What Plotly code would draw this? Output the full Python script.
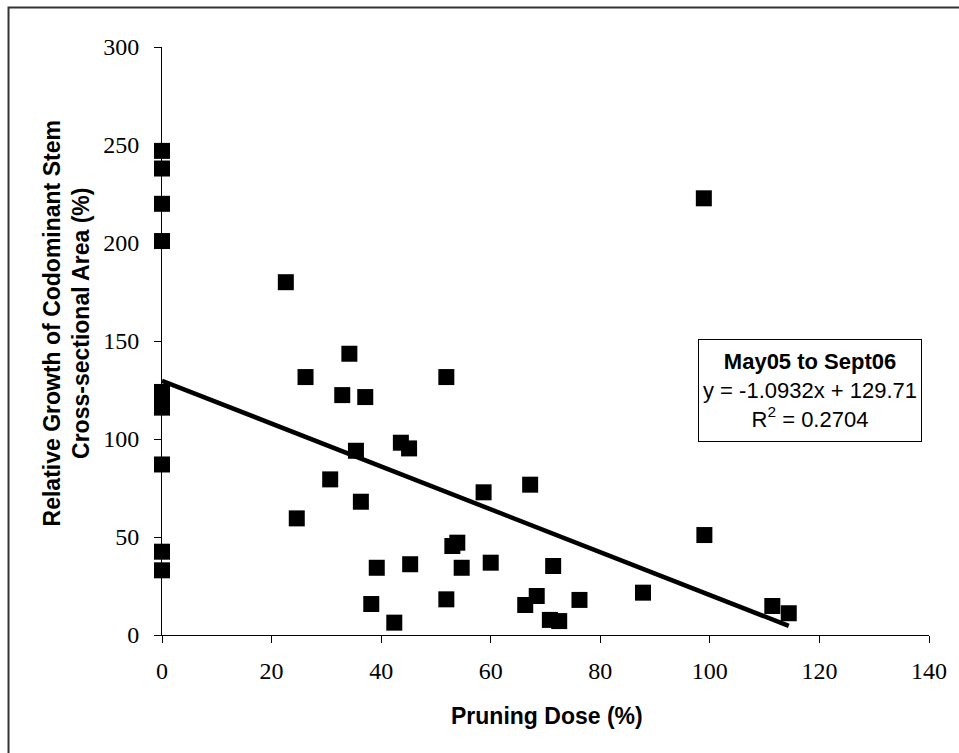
import plotly.graph_objects as go

# Pruning dose (%) and relative growth (%)
pruning_dose = [0, 0, 0, 0, 0, 0, 0, 0, 0, 0,
                22.6, 34.2, 26.2, 51.9, 32.9, 37.1, 35.4, 43.6, 45.1, 30.7,
                36.3, 24.6, 58.7, 67.2, 53.9, 53.0, 39.2, 45.3, 54.7, 60.0,
                71.4, 38.2, 42.4, 51.9, 68.4, 66.3, 70.8, 72.5, 76.2, 98.9,
                99.0, 87.8, 111.4, 114.4]
relative_growth = [247, 238, 220, 201, 124, 120, 116, 87, 42.5, 33,
                   180, 143.5, 131.6, 131.6, 122.4, 121.4, 94.0, 98.1, 95.2, 79.4,
                   68.0, 59.5, 72.8, 76.7, 47.1, 45.4, 34.3, 36.1, 34.3, 36.9,
                   35.2, 15.8, 6.3, 18.2, 19.9, 15.3, 7.7, 7.1, 17.9, 222.8,
                   51.0, 21.6, 14.8, 11.1]

slope = -1.0932
intercept = 129.71
r_squared = 0.2704
box_title = "May05 to Sept06"
x_title = "Pruning Dose (%)"
y_title = "Relative Growth of Codominant Stem<br>Cross-sectional Area (%)"

x_ticks = [0, 20, 40, 60, 80, 100, 120, 140]
y_ticks = [0, 50, 100, 150, 200, 250, 300]

trend_x = [0, max(pruning_dose)]
trend_y = [slope * v + intercept for v in trend_x]

fig = go.Figure()
fig.add_trace(go.Scatter(
    x=pruning_dose, y=relative_growth, mode="markers",
    marker=dict(symbol="square", size=16, color="black", line=dict(width=0)),
    cliponaxis=False, showlegend=False))
fig.add_trace(go.Scatter(
    x=trend_x, y=trend_y, mode="lines",
    line=dict(color="black", width=4.5), cliponaxis=False, showlegend=False))

tick_font = dict(family="Liberation Serif, Times New Roman, serif", size=24, color="black")
title_font = dict(family="Liberation Sans, Arial, sans-serif", size=23, color="black")

fig.update_layout(
    width=959, height=753,
    margin=dict(l=162, r=30, t=47, b=118),
    paper_bgcolor="white", plot_bgcolor="white",
    xaxis=dict(range=[0, 140], tickvals=x_ticks, ticks="outside", ticklen=7,
               tickcolor="black", tickwidth=1, showline=True, linecolor="black",
               linewidth=1, showgrid=False, zeroline=False, tickfont=tick_font,
               ticklabelstandoff=7),
    yaxis=dict(range=[0, 300], tickvals=y_ticks, ticks="outside", ticklen=7,
               tickcolor="black", tickwidth=1, showline=True, linecolor="black",
               linewidth=1, showgrid=False, zeroline=False, tickfont=tick_font,
               ticklabelstandoff=10),
    shapes=[dict(type="rect", xref="paper", yref="paper",
                 x0=-0.2001, x1=1.06, y0=-0.22, y1=1.0672,
                 line=dict(color="#333333", width=2), fillcolor="rgba(0,0,0,0)")],
    annotations=[
        dict(text="<b>" + y_title + "</b>", xref="paper", yref="paper",
             x=-0.1245, y=0.529, xanchor="center", yanchor="middle",
             textangle=-90, showarrow=False, font=title_font),
        dict(text="<b>" + x_title + "</b>", xref="paper", yref="paper",
             x=0.502, y=-0.1378, xanchor="center", yanchor="middle",
             showarrow=False, font=title_font),
        dict(text="<b>" + box_title + "</b><br>y = " + f"{slope}x + {intercept}" +
             "<br>R<sup>2</sup> = " + f"{r_squared}",
             xref="x", yref="y", x=118.3, y=124.9, xanchor="center", yanchor="middle",
             showarrow=False, bordercolor="black", borderwidth=1, borderpad=4,
             height=93, bgcolor="white",
             font=dict(family="Liberation Sans, Arial, sans-serif", size=22, color="black")),
    ],
)

fig.write_html("out.html")
